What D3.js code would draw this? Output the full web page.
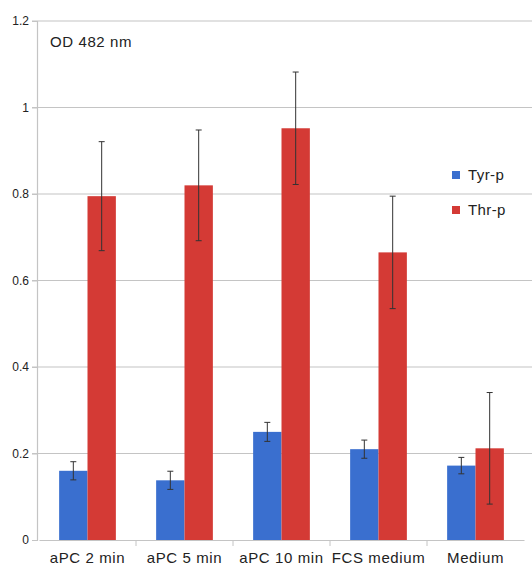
<!DOCTYPE html>
<html>
<head>
<meta charset="utf-8">
<script src="https://cdn.jsdelivr.net/npm/d3@7"></script>
<style>
body { margin: 0; background: #fff; }
svg text { font-family: "Liberation Sans", Arial, sans-serif; fill: #222; }
</style>
</head>
<body>
<div id="chart"></div>
<script>
var categories = ['aPC 2 min', 'aPC 5 min', 'aPC 10 min', 'FCS medium', 'Medium'];
var seriesNames = ['Tyr-p', 'Thr-p'];
var tyrValues = [0.160, 0.138, 0.250, 0.210, 0.172];
var tyrErrors = [0.021, 0.021, 0.022, 0.021, 0.019];
var thrValues = [0.795, 0.820, 0.952, 0.665, 0.212];
var thrErrors = [0.126, 0.128, 0.130, 0.130, 0.129];
var yTicks = [0, 0.2, 0.4, 0.6, 0.8, 1, 1.2];
var colors = ['#3a6fcf', '#d43a35'];

var width = 532, height = 569;

var svg = d3.select('#chart')
    .append('svg')
    .attr('width', width)
    .attr('height', height);

var x = d3.scaleBand()
    .domain(categories)
    .range([39, 524]);

var xInner = d3.scaleBand()
    .domain(seriesNames)
    .range([0, x.bandwidth()])
    .paddingOuter(0.71);

var y = d3.scaleLinear()
    .domain([0, 1.2])
    .range([540, 21]);

// gridlines
svg.append('g')
    .selectAll('line')
    .data(yTicks.slice(1))
    .enter()
    .append('line')
    .attr('x1', 32)
    .attr('x2', width)
    .attr('y1', d => y(d))
    .attr('y2', d => y(d))
    .attr('stroke', '#c4c4c4')
    .attr('stroke-width', 1.2);

// y axis
var yAxis = svg.append('g')
    .attr('transform', 'translate(37,0)')
    .call(d3.axisLeft(y).tickValues(yTicks).tickFormat(d3.format('')).tickSize(5).tickPadding(3));
yAxis.select('.domain').attr('stroke', '#c4c4c4').attr('stroke-width', 1.2);
yAxis.selectAll('.tick line').attr('stroke', '#c4c4c4');
yAxis.selectAll('.tick text').style('font-size', '12px');

// x axis
var xAxis = svg.append('g')
    .attr('transform', 'translate(0,540)')
    .call(d3.axisBottom(x).tickSize(0).tickPadding(12));
xAxis.select('.domain').attr('stroke', '#c4c4c4').attr('stroke-width', 1.2);
xAxis.selectAll('.tick text')
    .style('font-size', '15px')
    .style('letter-spacing', '0.6px');

// category separators
svg.append('g')
    .selectAll('line')
    .data(categories.slice(1))
    .enter()
    .append('line')
    .attr('x1', d => x(d))
    .attr('x2', d => x(d))
    .attr('y1', 540)
    .attr('y2', 546)
    .attr('stroke', '#c4c4c4');

var rows = categories.map(function(c, i) {
    return [
        {cat: c, series: seriesNames[0], value: tyrValues[i], err: tyrErrors[i], color: colors[0]},
        {cat: c, series: seriesNames[1], value: thrValues[i], err: thrErrors[i], color: colors[1]}
    ];
});
var flat = [].concat.apply([], rows);

// bars
svg.append('g')
    .selectAll('rect')
    .data(flat)
    .enter()
    .append('rect')
    .attr('x', d => x(d.cat) + xInner(d.series))
    .attr('width', xInner.bandwidth())
    .attr('y', d => y(d.value))
    .attr('height', d => y(0) - y(d.value))
    .attr('fill', d => d.color);

// error bars
var eb = svg.append('g')
    .selectAll('g')
    .data(flat)
    .enter()
    .append('g')
    .attr('stroke', '#333')
    .attr('stroke-width', 1);

var cx = d => x(d.cat) + xInner(d.series) + xInner.bandwidth() / 2;

eb.append('line')
    .attr('x1', cx).attr('x2', cx)
    .attr('y1', d => y(d.value + d.err))
    .attr('y2', d => y(d.value - d.err));
eb.append('line')
    .attr('x1', d => cx(d) - 3).attr('x2', d => cx(d) + 3)
    .attr('y1', d => y(d.value + d.err))
    .attr('y2', d => y(d.value + d.err));
eb.append('line')
    .attr('x1', d => cx(d) - 3).attr('x2', d => cx(d) + 3)
    .attr('y1', d => y(d.value - d.err))
    .attr('y2', d => y(d.value - d.err));

// unit label
svg.append('text')
    .attr('x', 50)
    .attr('y', 47)
    .style('font-size', '15px')
    .style('letter-spacing', '0.6px')
    .text('OD 482 nm');

// legend
var legend = svg.append('g')
    .selectAll('g')
    .data(seriesNames)
    .enter()
    .append('g')
    .attr('transform', (d, i) => 'translate(452,' + (171 + i * 35) + ')');
legend.append('rect')
    .attr('width', 8)
    .attr('height', 8)
    .attr('fill', (d, i) => colors[i]);
legend.append('text')
    .attr('x', 16)
    .attr('y', 9)
    .style('font-size', '15px')
    .style('letter-spacing', '0.4px')
    .text(d => d);
</script>
</body>
</html>
